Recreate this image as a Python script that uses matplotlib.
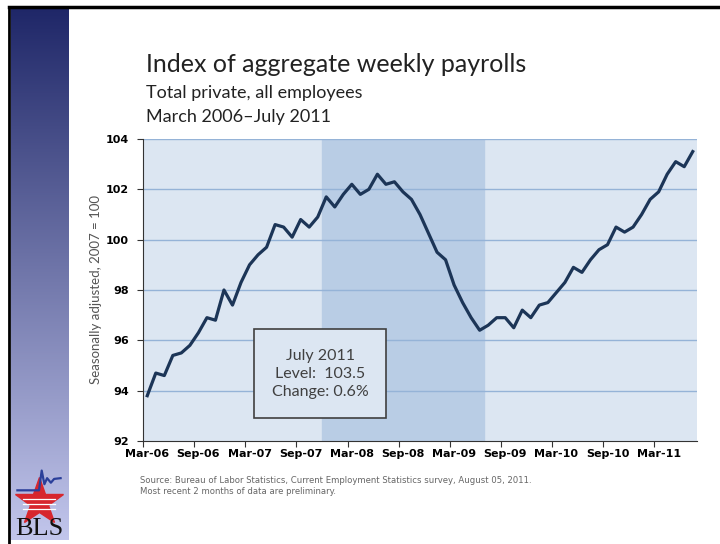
import numpy as np
import matplotlib
matplotlib.use('Agg')
import matplotlib.pyplot as plt
from matplotlib.patches import Rectangle
from matplotlib.lines import Line2D

# Index of aggregate weekly payrolls, Mar 2006 - Jul 2011 (monthly)
values = [93.8, 94.7, 94.6, 95.4, 95.5, 95.8, 96.3, 96.9, 96.8, 98.0,
          97.4, 98.3, 99.0, 99.4, 99.7, 100.6, 100.5, 100.1, 100.8, 100.5,
          100.9, 101.7, 101.3, 101.8, 102.2, 101.8, 102.0, 102.6, 102.2, 102.3,
          101.9, 101.6, 101.0, 100.25, 99.5, 99.2, 98.2, 97.5, 96.9, 96.4,
          96.6, 96.9, 96.9, 96.5, 97.2, 96.9, 97.4, 97.5, 97.9, 98.3,
          98.9, 98.7, 99.2, 99.6, 99.8, 100.5, 100.3, 100.5, 101.0, 101.6,
          101.9, 102.6, 103.1, 102.9, 103.5]
tick_labels = ['Mar-06', 'Sep-06', 'Mar-07', 'Sep-07', 'Mar-08', 'Sep-08',
               'Mar-09', 'Sep-09', 'Mar-10', 'Sep-10', 'Mar-11']
recession_start = 21  # Dec 2007
recession_end = 39    # Jun 2009
y_ticks = [92, 94, 96, 98, 100, 102, 104]

x = np.arange(len(values))

fig = plt.figure(figsize=(7.2, 5.44), dpi=100)
fig.patch.set_facecolor('white')

# slide decorations: gradient bar on the left, frame lines
bar = fig.add_axes([11 / 720, 1 - 540 / 544, 58 / 720, 532 / 544])
top_c = np.array([0x1f, 0x27, 0x68]) / 255
bot_c = np.array([0xc2, 0xc6, 0xec]) / 255
t = np.linspace(0, 1, 256)[:, None]
grad = top_c * (1 - t)[:, :, None] + bot_c * t[:, :, None]
bar.imshow(grad, aspect='auto', extent=[0, 1, 0, 1])
bar.axis('off')

fig.add_artist(Line2D([9 / 720, 1], [1 - 7 / 544, 1 - 7 / 544], color='black', lw=2.5))
fig.add_artist(Line2D([9 / 720, 9 / 720], [0, 1 - 7 / 544], color='black', lw=2))

# BLS logo (simplified)
logo = fig.add_axes([12 / 720, 1 - 542 / 544, 54 / 720, 76 / 544])
logo.set_xlim(0, 1)
logo.set_ylim(0, 1)
logo.axis('off')
logo.plot([0.5], [0.52], marker='*', markersize=36, color='#d7262d', markeredgecolor='#d7262d')
for yy in [0.44, 0.50, 0.56]:
    logo.plot([0.2, 0.8], [yy, yy], color='white', lw=0.9)
logo.plot([0.1, 0.5, 0.55, 0.6, 0.65, 0.72, 0.78, 0.9],
          [0.68, 0.68, 0.94, 0.76, 0.84, 0.78, 0.83, 0.84], color='#2a3f9a', lw=1.6)
logo.text(0.5, 0.02, 'BLS', ha='center', va='bottom', fontsize=19,
          family='Liberation Serif', color='#111111')

# main chart
ax = fig.add_axes([143 / 720, 1 - 441 / 544, 554 / 720, 302 / 544])
ax.set_facecolor('#dce6f2')
ax.axvspan(recession_start - 0.5, recession_end + 0.5, color='#b9cde5', zorder=0)
for yv in y_ticks[1:]:
    ax.axhline(yv, color='#95b3d7', lw=1.0, zorder=1)
ax.plot(x, values, color='#1c3557', lw=2.3, zorder=3)

ax.set_xlim(-0.5, len(values) - 0.5)
ax.set_ylim(92, 104)
ax.set_yticks(y_ticks)
ax.set_yticklabels([str(v) for v in y_ticks], fontsize=8, fontweight='bold')
ax.set_xticks(np.arange(0, len(values), 6) - 0.5)
ax.set_xticklabels([])
ax.set_xticks(np.arange(0, len(values), 6), minor=True)
ax.set_xticklabels(tick_labels, minor=True, fontsize=8, fontweight='bold')
ax.tick_params(axis='x', which='minor', length=0, pad=6)
ax.tick_params(axis='x', which='major', length=4, color='#333333')
ax.tick_params(axis='y', length=4, color='#333333', pad=6)
for s in ['top', 'right']:
    ax.spines[s].set_visible(False)
ax.spines['left'].set_color('#333333')
ax.spines['bottom'].set_color('#333333')
ax.set_ylabel('Seasonally adjusted, 2007 = 100', fontsize=9.5, color='#555555',
              family='Lato', labelpad=3)

# annotation box
ax.add_patch(Rectangle((0.2004, 0.076), 0.2382, 0.295, transform=ax.transAxes,
                       facecolor='#dce6f2', edgecolor='#404040', lw=1.2, zorder=4))
ax.text(0.3195, 0.222, 'July 2011\nLevel:  103.5\nChange: 0.6%', transform=ax.transAxes,
        ha='center', va='center', fontsize=11.5, color='#404040', linespacing=1.35,
        zorder=5, family='Lato')

# titles
fig.text(146 / 720, 1 - 64 / 544, 'Index of aggregate weekly payrolls', fontsize=18,
         family='Lato', color='#222222', va='center')
fig.text(146 / 720, 1 - 93 / 544, 'Total private, all employees', fontsize=13,
         family='Lato', color='#222222', va='center')
fig.text(146 / 720, 1 - 117 / 544, 'March 2006\u2013July 2011', fontsize=13,
         family='Lato', color='#222222', va='center')

fig.text(140 / 720, 1 - 486 / 544,
         'Source: Bureau of Labor Statistics, Current Employment Statistics survey, August 05, 2011.\n'
         'Most recent 2 months of data are preliminary.',
         fontsize=6.1, color='#666666', va='center', linespacing=1.25)

fig.savefig('out.png', dpi=100)
